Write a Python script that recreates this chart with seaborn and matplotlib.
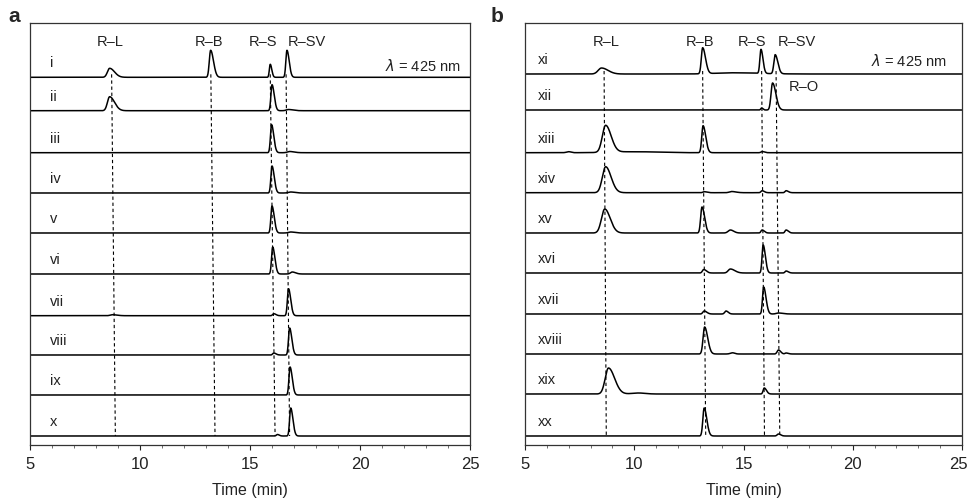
import numpy as np
import pandas as pd
import matplotlib
matplotlib.use("Agg")
import matplotlib.pyplot as plt
from matplotlib.ticker import MultipleLocator
import seaborn as sns

sns.set_theme(style="white")
plt.rcParams['font.family'] = ['Liberation Sans', 'DejaVu Sans']
plt.rcParams['mathtext.fontset'] = 'dejavusans'

# ---------------- data ----------------
labels_a = ["i", "ii", "iii", "iv", "v", "vi", "vii", "viii", "ix", "x"]
labels_b = ["xi", "xii", "xiii", "xiv", "xv", "xvi", "xvii", "xviii", "xix", "xx"]
time_ticks = [5, 10, 15, 20, 25]

# peaks per trace: (retention time min, height, left width, right width)
peaks_a = [
    [(8.62, 9, 0.10, 0.22), (13.21, 27, 0.06, 0.13), (15.92, 13, 0.04, 0.07), (16.68, 27, 0.05, 0.10)],
    [(8.62, 14, 0.10, 0.22), (16.00, 26, 0.05, 0.10), (16.75, 1.2, 0.10, 0.20)],
    [(15.98, 28, 0.05, 0.10), (16.80, 1.2, 0.10, 0.20)],
    [(16.00, 27, 0.05, 0.10), (16.85, 1.0, 0.10, 0.20)],
    [(16.00, 27, 0.05, 0.10), (16.85, 1.0, 0.10, 0.20)],
    [(16.03, 27, 0.05, 0.10), (16.92, 2.0, 0.08, 0.15)],
    [(8.75, 1.0, 0.10, 0.20), (16.08, 2.0, 0.05, 0.10), (16.75, 27, 0.05, 0.10)],
    [(16.08, 2.0, 0.05, 0.10), (16.80, 27, 0.05, 0.10)],
    [(16.82, 28, 0.05, 0.10)],
    [(16.25, 1.5, 0.05, 0.08), (16.85, 28, 0.05, 0.10)],
]
peaks_b = [
    [(8.50, 6, 0.15, 0.30), (13.13, 26, 0.06, 0.13), (14.50, 1.2, 0.80, 1.20), (15.80, 24, 0.05, 0.09), (16.45, 19, 0.06, 0.12)],
    [(15.83, 2, 0.04, 0.06), (16.33, 27, 0.07, 0.15)],
    [(7.00, 1.0, 0.10, 0.10), (8.69, 27, 0.15, 0.25), (10.00, 1.0, 1.00, 1.00), (13.15, 27, 0.06, 0.12), (15.85, 1.2, 0.05, 0.10)],
    [(8.69, 26, 0.15, 0.25), (13.20, 1.0, 0.06, 0.12), (14.45, 1.2, 0.10, 0.20), (15.85, 2, 0.05, 0.10), (16.95, 2, 0.05, 0.10)],
    [(8.65, 24, 0.15, 0.25), (13.10, 26, 0.06, 0.12), (14.40, 3, 0.10, 0.15), (15.85, 3, 0.05, 0.10), (16.95, 3, 0.05, 0.10)],
    [(13.18, 3.5, 0.06, 0.12), (14.40, 4, 0.10, 0.20), (15.90, 28, 0.05, 0.10), (16.95, 2, 0.05, 0.10)],
    [(13.20, 3, 0.06, 0.12), (14.20, 3, 0.06, 0.10), (15.92, 27, 0.05, 0.11), (16.60, 1.0, 0.10, 0.20)],
    [(13.22, 27, 0.07, 0.14), (14.50, 1.2, 0.10, 0.10), (16.60, 4, 0.06, 0.10), (16.95, 1.0, 0.05, 0.10)],
    [(8.82, 26, 0.15, 0.28), (10.20, 1.0, 0.30, 0.30), (15.95, 6, 0.05, 0.10)],
    [(13.20, 28, 0.06, 0.12), (16.60, 2, 0.06, 0.10)],
]

compound_names = ["R\u2013L", "R\u2013B", "R\u2013S", "R\u2013SV"]
name_x_a = [8.65, 13.15, 15.6, 17.6]
name_x_b = [8.71, 13.0, 15.37, 17.43]
# reference dashed lines: (time at top, time at bottom)
guides_a = [(8.71, 8.88), (13.22, 13.41), (15.92, 16.14), (16.64, 16.80)]
guides_b = [(8.62, 8.72), (13.13, 13.27), (15.83, 15.96), (16.49, 16.66)]

# vertical layout (baseline of each trace, in pixel-like units, top = 23, bottom = 445)
base_a = [77.3, 110.7, 152.7, 193, 233, 274, 315.7, 355, 395, 436]
base_b = [74, 110, 152.7, 192.7, 233, 273, 314, 354, 394, 436]

t = np.linspace(5, 25, 2001)


def trace(peaks):
    y = np.zeros_like(t)
    for rt, h, wl, wr in peaks:
        w = np.where(t < rt, wl, wr)
        y += h * np.exp(-0.5 * ((t - rt) / w) ** 2)
    return y


def build(labels, peaks, bases):
    rows = []
    for lab, pk, b in zip(labels, peaks, bases):
        rows.append(pd.DataFrame({"time": t, "signal": b - trace(pk), "trace": lab}))
    return pd.concat(rows, ignore_index=True)


fig = plt.figure(figsize=(9.69, 5.0), dpi=100)
ax_a = fig.add_axes([30 / 969, 1 - 445 / 500, 440 / 969, 422 / 500])
ax_b = fig.add_axes([525 / 969, 1 - 445 / 500, 437 / 969, 422 / 500])

for ax, labels, peaks, bases, names_x, guides, letter in [
    (ax_a, labels_a, peaks_a, base_a, name_x_a, guides_a, "a"),
    (ax_b, labels_b, peaks_b, base_b, name_x_b, guides_b, "b"),
]:
    df = build(labels, peaks, bases)
    sns.lineplot(data=df, x="time", y="signal", units="trace", estimator=None,
                 color="black", linewidth=1.1, ax=ax, legend=False)
    ax.set_xlim(5, 25)
    ax.set_ylim(445, 23)
    for (x0, x1) in guides:
        ax.plot([x0, x1], [bases[0] - 3, bases[-1]], color="black", lw=0.8,
                ls=(0, (3, 2.5)))
    for nm, nx in zip(compound_names, names_x):
        ax.text(nx, 41.7, nm, ha="center", va="center", fontsize=10.5, color="#222222")
    for lab, b in zip(labels, bases):
        ax.text(5.6 if letter == "b" else 5.9, b - 14, lab, ha="left", va="center",
                fontsize=10.5, color="#222222")
    ax.text(24.6 if letter == "a" else 24.3, 66 if letter == "a" else 61,
            r"$\lambda$ = 425 nm", ha="right", va="center", fontsize=10.5, color="#222222")
    ax.set_xlabel("Time (min)", fontsize=11.5, color="#222222", labelpad=8)
    ax.set_ylabel("")
    ax.set_yticks([])
    tick_text = [str(v) for v in time_ticks]
    if letter == "b":
        tick_text[-1] = ""
    ax.set_xticks(time_ticks, tick_text)
    ax.xaxis.set_minor_locator(MultipleLocator(1))
    ax.tick_params(axis="x", which="major", direction="out", length=3.5, width=0.8,
                   labelsize=12, colors="#222222", bottom=True, pad=5)
    ax.tick_params(axis="x", which="minor", direction="out", length=2.5, width=0.6,
                   bottom=True, color="#555555")
    for sp in ax.spines.values():
        sp.set_visible(True)
        sp.set_color("#333333")
        sp.set_linewidth(0.9)

ax_b.text(17.05, 87, "R\u2013O", ha="left", va="center", fontsize=10.5, color="#222222")
# last tick label of panel b, kept inside the canvas
fig.text(968 / 969, 1 - 456.8 / 500, str(time_ticks[-1]), fontsize=12, color="#222222",
         ha="right", va="top")

fig.text(8 / 969, 1 - 17 / 500, "a", fontsize=15, fontweight="bold", ha="left", va="center")
fig.text(491 / 969, 1 - 17 / 500, "b", fontsize=15, fontweight="bold", ha="left", va="center")

fig.savefig("out.png", dpi=100)
